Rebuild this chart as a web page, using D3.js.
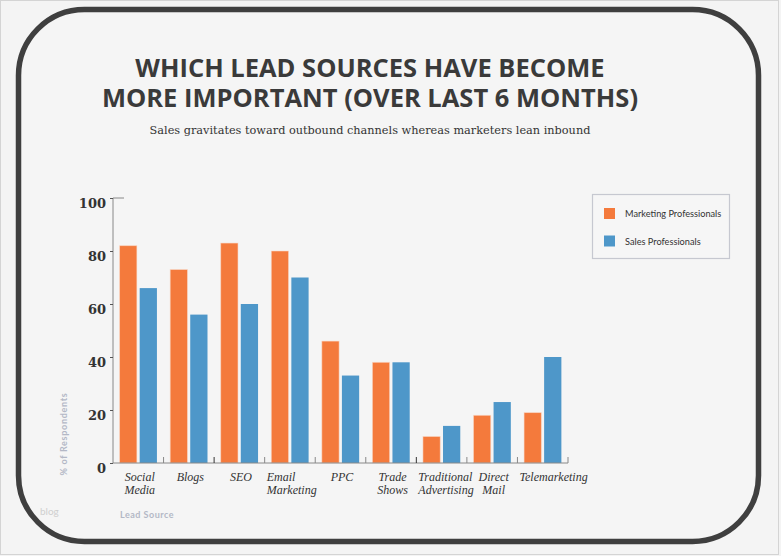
<!DOCTYPE html>
<html><head><meta charset="utf-8">
<script src="https://cdn.jsdelivr.net/npm/d3@7"></script>
<style>
html,body{margin:0;padding:0;background:#f4f4f4;}
svg{display:block;}
</style></head>
<body>
<script>
const categories = [["Social","Media"],["Blogs"],["SEO"],["Email","Marketing"],["PPC"],["Trade","Shows"],["Traditional","Advertising"],["Direct","Mail"],["Telemarketing"]];
const marketing = [82,73,83,80,46,38,10,18,19];
const sales = [66,56,60,70,33,38,14,23,40];
const seriesNames = ["Marketing Professionals","Sales Professionals"];
const yTicks = [0,20,40,60,80,100];
const titleLines = ["WHICH LEAD SOURCES HAVE BECOME","MORE IMPORTANT (OVER LAST 6 MONTHS)"];
const subtitle = "Sales gravitates toward outbound channels whereas marketers lean inbound";

const W=781,H=556;
const colors=["#f47a3c","#4e97c9"];
const svg=d3.select("body").append("svg").attr("width",W).attr("height",H);
svg.append("rect").attr("x",0.5).attr("y",0.5).attr("width",W-3).attr("height",H-2).attr("fill","#f4f4f4").attr("stroke","#d4d4d4");
svg.append("rect").attr("x",18.5).attr("y",9.5).attr("width",740).attr("height",532).attr("rx",66).attr("ry",66)
  .attr("fill","#f5f5f5").attr("stroke","#3f3f3f").attr("stroke-width",5.5);

svg.append("text").attr("text-anchor","middle")
  .attr("font-family","'Open Sans',sans-serif").attr("font-weight",700).attr("font-size",25.5)
  .attr("fill","#3a3a3a")
  .selectAll("tspan").data(titleLines).join("tspan")
  .attr("x",370).attr("y",(d,i)=>77+i*29.5).text(d=>d);
svg.append("text").attr("x",370).attr("y",134).attr("text-anchor","middle")
  .attr("font-family","'DejaVu Serif',serif").attr("font-size",11.3).attr("fill","#333").text(subtitle);

const x0=d3.scaleBand().domain(d3.range(categories.length)).range([113,568]).paddingInner(0).paddingOuter(0);
const x1=d3.scaleBand().domain([0,1]).range([0,x0.bandwidth()]).paddingInner(0.14).paddingOuter(0.33);
const y=d3.scaleLinear().domain([0,100]).range([463,198]);

const g=svg.append("g");
categories.forEach((c,i)=>{
  [marketing[i],sales[i]].forEach((v,s)=>{
    g.append("rect").attr("x",x0(i)+x1(s)).attr("y",y(v)).attr("width",x1.bandwidth()).attr("height",y(0)-y(v))
      .attr("fill",colors[s]).attr("stroke","#f9d9c8").attr("stroke-opacity",s===0?0.7:0).attr("stroke-width",0.8);
  });
});

// y axis
const ya=svg.append("g").attr("transform","translate(113,0)").call(d3.axisLeft(y).tickValues(yTicks).tickSize(3).tickPadding(4));
ya.select(".domain").attr("stroke","#888").attr("d","M0,463V198H11");
ya.selectAll(".tick line").attr("stroke","#555");
ya.selectAll(".tick text").attr("font-family","'DejaVu Serif',serif").attr("font-size",13).attr("font-weight",600).attr("fill","#333").attr("y",0).attr("dy","0.73em");

// x axis
svg.append("line").attr("x1",113).attr("x2",568).attr("y1",463).attr("y2",463).attr("stroke","#888");
svg.append("g").selectAll("line").data(d3.range(1,categories.length+1)).join("line")
  .attr("x1",d=>x0.range()[0]+d*x0.bandwidth()).attr("x2",d=>x0.range()[0]+d*x0.bandwidth())
  .attr("y1",457).attr("y2",463).attr("stroke",(d)=>(d===2||d===6)?"#333":"#888");
const lab=svg.append("g").selectAll("text").data(categories).join("text")
  .attr("font-family","'Liberation Serif',serif").attr("font-style","italic")
  .attr("font-size",12).attr("fill","#333");
lab.each(function(d,i){
  const t=d3.select(this);
  t.selectAll("tspan").data(d).join("tspan")
    .attr("x",x0(i)+x0.bandwidth()/2+1.5).attr("y",(s,j)=>481+j*13).attr("text-anchor","middle").text(s=>s);
  const w=this.getBBox().width;
  if(w>x0.bandwidth()){
    t.selectAll("tspan").attr("text-anchor","start").attr("x",x0(i)+2);
  }
});

svg.append("text").attr("transform","translate(67,434) rotate(-90)").attr("text-anchor","middle")
  .attr("font-family","Lato,sans-serif").attr("font-weight",700).attr("font-size",9).attr("letter-spacing",0.7).attr("fill","#b3b8c6").text("% of Respondents");
svg.append("text").attr("x",120).attr("y",518).attr("font-family","Lato,sans-serif").attr("font-weight",700)
  .attr("font-size",9).attr("letter-spacing",0.5).attr("fill","#b3b8c6").text("Lead Source");
svg.append("text").attr("x",40).attr("y",515).attr("font-family","Lato,sans-serif").attr("font-size",10).attr("fill","#cfcfcf").text("blog");

// legend
const lg=svg.append("g");
lg.append("rect").attr("x",592.5).attr("y",194.5).attr("width",137).attr("height",64).attr("fill","#f6f6f6").attr("stroke","#c6c8d0").attr("stroke-width",1.2);
seriesNames.forEach((n,i)=>{
  lg.append("rect").attr("x",604).attr("y",208+i*27.5).attr("width",11).attr("height",11).attr("fill",colors[i]);
  lg.append("text").attr("x",625).attr("y",217+i*27.5).attr("font-family","Lato,sans-serif").attr("font-size",9.2).attr("fill","#333").text(n);
});
</script>
</body></html>
